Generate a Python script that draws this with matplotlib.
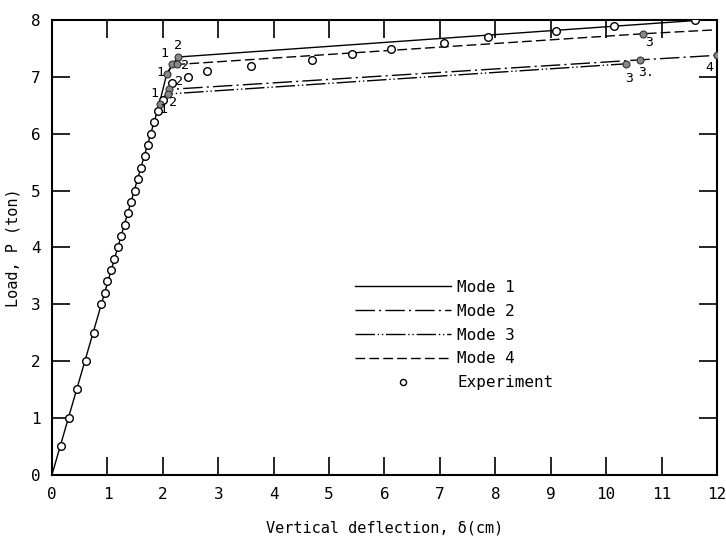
import matplotlib
matplotlib.use("Agg")
import matplotlib.pyplot as plt

plt.rcParams['font.family'] = ['DejaVu Sans Mono', 'DejaVu Sans']

# Experiment data (deflection cm, load ton)
exp_x = [0.16, 0.31, 0.46, 0.61, 0.75, 0.89, 0.95, 1.0, 1.06, 1.125, 1.19, 1.245, 1.31, 1.37,
         1.43, 1.49, 1.55, 1.61, 1.67, 1.73, 1.78, 1.84, 1.91, 2.01, 2.16, 2.46, 2.79, 3.59,
         4.69, 5.41, 6.12, 7.08, 7.87, 9.09, 10.14, 11.6]
exp_y = [0.5, 1.0, 1.5, 2.0, 2.5, 3.0, 3.2, 3.4, 3.6, 3.8, 4.0, 4.2, 4.4, 4.6,
         4.8, 5.0, 5.2, 5.4, 5.6, 5.8, 6.0, 6.2, 6.4, 6.6, 6.9, 7.0, 7.1, 7.2,
         7.3, 7.4, 7.5, 7.6, 7.7, 7.8, 7.9, 8.0]

# Analytical modes
mode1_x = [0.0, 1.93, 2.07, 2.27, 12.0]
mode1_y = [0.0, 6.50, 7.05, 7.35, 8.02]
mode2_x = [1.95, 2.12, 10.61, 12.0]
mode2_y = [6.55, 6.78, 7.30, 7.38]
mode3_x = [1.93, 2.10, 10.35]
mode3_y = [6.50, 6.70, 7.23]
mode4_x = [2.07, 2.16, 2.27, 10.67, 12.0]
mode4_y = [7.05, 7.20, 7.22, 7.76, 7.83]

# Plastic hinge points and labels
hinge_x = [1.95, 2.07, 2.16, 2.27, 2.12, 2.10, 2.25, 10.35, 10.61, 10.67, 12.0]
hinge_y = [6.52, 7.05, 7.22, 7.35, 6.78, 6.70, 7.22, 7.23, 7.30, 7.76, 7.38]
label_x = [2.27, 2.02, 1.95, 2.40, 2.30, 1.85, 2.19, 2.01, 10.77, 10.42, 10.72, 11.87]
label_y = [7.55, 7.41, 7.08, 7.20, 6.92, 6.70, 6.55, 6.42, 7.61, 6.97, 7.08, 7.17]
label_t = ['2', '1', '1', '2', '2', '1', '2', '1', '3', '3', '3.', '4']

fig = plt.figure(figsize=(7.26, 5.43), dpi=100)
ax = fig.add_axes([0.0716, 0.1258, 0.9160, 0.8372])

lw = 1.0
l1, = ax.plot(mode1_x, mode1_y, color='black', lw=lw, label='Mode 1')
l2, = ax.plot(mode2_x, mode2_y, color='black', lw=lw, dashes=(14, 3, 1.5, 3), label='Mode 2')
l3, = ax.plot(mode3_x, mode3_y, color='black', lw=lw, dashes=(14, 2, 1, 2, 1, 2), label='Mode 3')
l4, = ax.plot(mode4_x, mode4_y, color='black', lw=lw, dashes=(7, 3), label='Mode 4')
le, = ax.plot(exp_x, exp_y, linestyle='none', marker='o', ms=5.5, mfc='white', mec='black',
              mew=1.0, label='Experiment', zorder=5)
ax.plot(hinge_x, hinge_y, linestyle='none', marker='o', ms=5, mfc='#888888', mec='#333333',
        mew=0.8, zorder=6)
for tx, ty, t in zip(label_x, label_y, label_t):
    ax.text(tx, ty, t, fontsize=9.5, ha='center', va='center', zorder=7)

ax.set_xlim(0, 12)
ax.set_ylim(0, 8)
ax.set_xticks(range(0, 13))
ax.set_yticks(range(0, 9))
ax.tick_params(direction='in', length=13, width=1.2, top=True, right=True,
               labelsize=11.5)
ax.tick_params(axis='x', pad=9)
ax.tick_params(axis='y', pad=8)
for s in ax.spines.values():
    s.set_linewidth(1.5)

ax.set_xlabel('Vertical deflection, δ(cm)', fontsize=11, labelpad=13)
ax.set_ylabel('Load, P (ton)', fontsize=11, labelpad=8)

ax.legend(handles=[l1, l2, l3, l4, le], loc='upper left',
          bbox_to_anchor=(355 / 726, 1 - 280 / 543), bbox_transform=fig.transFigure,
          frameon=False, handlelength=6.0, handletextpad=0.4, labelspacing=0.55,
          borderpad=0, borderaxespad=0, fontsize=11.5, markerscale=0.8)

fig.savefig('out.png', dpi=100)
